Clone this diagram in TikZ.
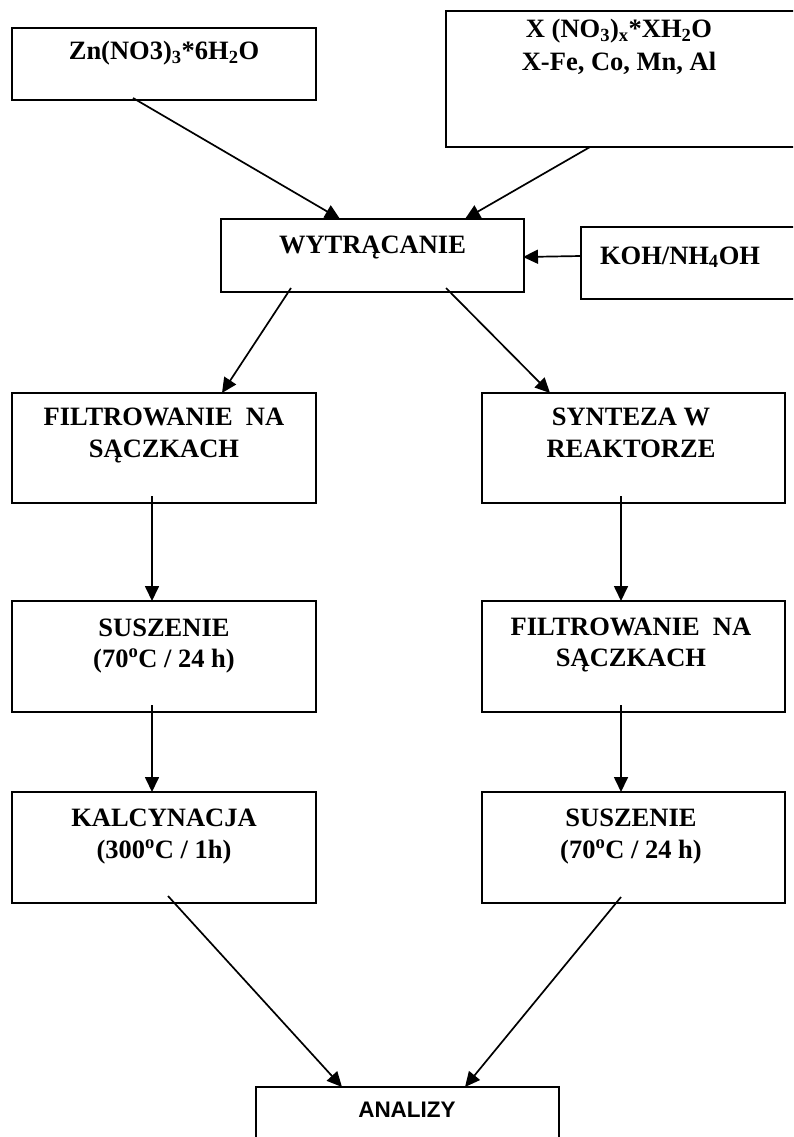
\documentclass[tikz,border=0pt]{standalone}
\usepackage{fontspec}
\setmainfont{Liberation Serif}
\newfontfamily\arialfont{Liberation Sans}
\usetikzlibrary{arrows.meta}
\begin{document}
\begin{tikzpicture}[x=1pt,y=-1pt,
  box/.style={draw, line width=2.2pt, inner sep=0pt, rectangle},
  lbl/.style={font=\bfseries\fontsize{26.5}{31}\selectfont, anchor=base, inner sep=0pt},
  slbl/.style={font=\arialfont\bfseries\fontsize{22.5}{27}\selectfont, anchor=base, inner sep=0pt},
  arr/.style={line width=1.7pt, -{Triangle[length=15pt,width=14pt]}}]
\useasboundingbox (0,0) rectangle (793,1137);
\clip (0,0) rectangle (793,1137);
% boxes
\node[box, minimum width=304pt, minimum height=72pt]  (zn)  at (164,64) {};
\node[box, minimum width=350pt, minimum height=136pt] (xb)  at (621,79) {};
\node[box, minimum width=303pt, minimum height=73pt]  (wyt) at (372.5,255.5) {};
\node[box, minimum width=219pt, minimum height=72pt]  (koh) at (690.5,263) {};
\node[box, minimum width=304pt, minimum height=110pt] (f1)  at (164,448) {};
\node[box, minimum width=304pt, minimum height=111pt] (s1)  at (164,656.5) {};
\node[box, minimum width=304pt, minimum height=111pt] (k1)  at (164,847.5) {};
\node[box, minimum width=303pt, minimum height=110pt] (sy)  at (633.5,448) {};
\node[box, minimum width=303pt, minimum height=111pt] (f2)  at (633.5,656.5) {};
\node[box, minimum width=303pt, minimum height=111pt] (s2)  at (633.5,847.5) {};
\node[box, minimum width=303pt, minimum height=80pt]  (an)  at (407.5,1127) {};
% texts
\node[lbl] (tzn) at (164,60) {Zn(NO3)\textsubscript{3}*6H\textsubscript{2}O};
\node[lbl] (tx1) at (619,38) {X (NO\textsubscript{3})\textsubscript{x}*XH\textsubscript{2}O};
\node[lbl] (tx2) at (619,71) {X-Fe, Co, Mn, Al};
\node[lbl] (twyt) at (372.5,253) {WYTRĄCANIE};
\node[lbl] (tkoh) at (680,264) {KOH/NH\textsubscript{4}OH};
\node[lbl] (tf1a) at (164,425) {FILTROWANIE\ \ NA};
\node[lbl] (tf1b) at (164,457) {SĄCZKACH};
\node[lbl] (ts1a) at (164,636) {SUSZENIE};
\node[lbl] (ts1b) at (164,667) {(70\textsuperscript{o}C / 24 h)};
\node[lbl] (tk1a) at (164,826) {KALCYNACJA};
\node[lbl] (tk1b) at (164,858) {(300\textsuperscript{o}C / 1h)};
\node[lbl] (tsya) at (631,425) {SYNTEZA W};
\node[lbl] (tsyb) at (631,457) {REAKTORZE};
\node[lbl] (tf2a) at (631,635) {FILTROWANIE\ \ NA};
\node[lbl] (tf2b) at (631,666) {SĄCZKACH};
\node[lbl] (ts2a) at (631,826) {SUSZENIE};
\node[lbl] (ts2b) at (631,858) {(70\textsuperscript{o}C / 24 h)};
\node[slbl] (tan) at (407,1117) {ANALIZY};
% connector end points
\coordinate (zno) at (133,98);
\coordinate (wi1) at (340,219);
\coordinate (xbo) at (590,147);
\coordinate (wi2) at (465,219);
\coordinate (koho) at (581,256);
\coordinate (wi3) at (523,257);
\coordinate (wo1) at (291,288);
\coordinate (f1i) at (222,393);
\coordinate (wo2) at (446,288);
\coordinate (syi) at (550,393);
\coordinate (f1o) at (152,496);
\coordinate (s1i) at (152,601);
\coordinate (s1o) at (152,705);
\coordinate (k1i) at (152,792);
\coordinate (syo) at (621,496);
\coordinate (f2i) at (621,601);
\coordinate (f2o) at (621,705);
\coordinate (s2i) at (621,792);
\coordinate (k1o) at (168,896);
\coordinate (ani1) at (342,1087);
\coordinate (s2o) at (621,897);
\coordinate (ani2) at (465,1087);
% connectors
\draw[arr] (zno) -- (wi1);
\draw[arr] (xbo) -- (wi2);
\draw[arr] (koho) -- (wi3);
\draw[arr] (wo1) -- (f1i);
\draw[arr] (wo2) -- (syi);
\draw[arr] (f1o) -- (s1i);
\draw[arr] (s1o) -- (k1i);
\draw[arr] (syo) -- (f2i);
\draw[arr] (f2o) -- (s2i);
\draw[arr] (k1o) -- (ani1);
\draw[arr] (s2o) -- (ani2);
\end{tikzpicture}
\end{document}
